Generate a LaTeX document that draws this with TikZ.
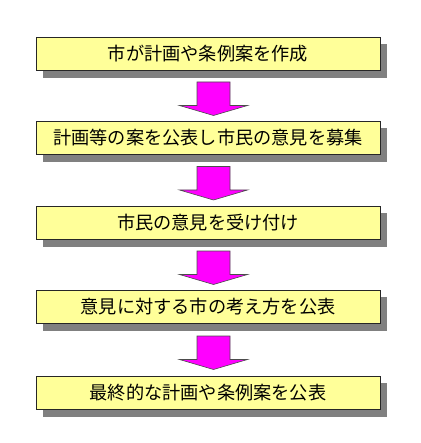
\documentclass[tikz,border=0pt]{standalone}
\usepackage{fontspec}
\setmainfont{Noto Sans CJK JP}
\usepackage{tikz}
\usetikzlibrary{calc, shadows}
\definecolor{boxyellow}{HTML}{FFFF99}
\definecolor{shadowgray}{HTML}{808080}
\definecolor{arrowpink}{HTML}{FF00FF}
\tikzset{
  stepbox/.style={rectangle, draw=black!85, line width=0.8pt, fill=boxyellow,
    minimum width=344pt, minimum height=33.5pt, inner sep=0pt,
    font=\fontsize{18.2}{20}\selectfont,
    drop shadow={shadow xshift=6.5pt, shadow yshift=-7pt, fill=shadowgray, opacity=1}},
  downarrow/.style={draw=black!70, line width=0.6pt, fill=arrowpink}
}

\begin{document}
\begin{tikzpicture}[x=1pt, y=-1pt]
		\useasboundingbox (0,0) rectangle (420,443);
		
		% 手続きの各段階
		\node[stepbox] (b1) at (208,54) {市が計画や条例案を作成};
		\node[stepbox] (b2) at (208,138) {計画等の案を公表し市民の意見を募集};
		\node[stepbox] (b3) at (208,223) {市民の意見を受け付け};
		\node[stepbox] (b4) at (208,307) {意見に対する市の考え方を公表};
		\node[stepbox] (b5) at (208,393) {最終的な計画や条例案を公表};
		
		% 段階の間の矢印
		\foreach \i/\j in {b1/b2, b2/b3, b3/b4, b4/b5} {
			\coordinate (m) at ($(\i.south)!0.5!(\j.north)+(5.5,0)$);
			\draw[downarrow] ($(m)+(-16.5,-14)$) -- ++(33,0) -- ++(0,23.5) -- ++(17.5,0)
				-- ($(m)+(0,19.5)$) -- ($(m)+(-34,9.5)$) -- ++(17.5,0) -- cycle;
		}
	\end{tikzpicture}
\end{document}
